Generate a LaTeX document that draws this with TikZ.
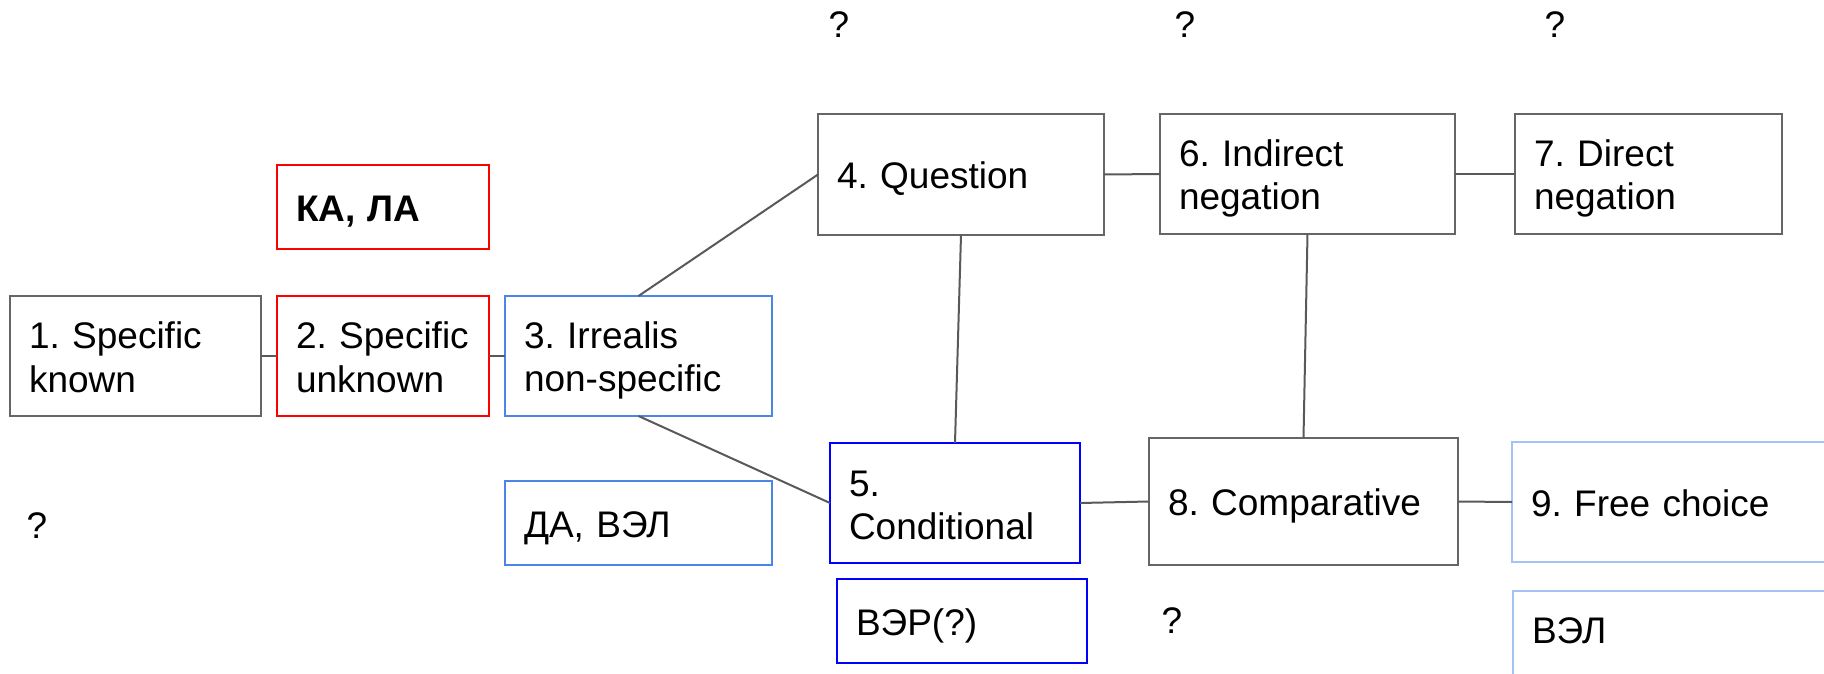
\documentclass[tikz,border=0pt]{standalone}
\usepackage{fontspec}
\setmainfont{Liberation Sans}
\definecolor{bordergray}{HTML}{666666}
\definecolor{linegray}{HTML}{595959}
\definecolor{redb}{HTML}{FF0000}
\definecolor{blueA}{HTML}{4A86E8}
\definecolor{blueB}{HTML}{0000FF}
\definecolor{blueC}{HTML}{A4C2F4}
\newcommand{\mystrut}{\rule[-7pt]{0pt}{43pt}}
\newcommand{\lowstrut}{\rule[-12.5pt]{0pt}{43pt}}
\newcommand{\boxfont}{\fontsize{37}{43}\selectfont\frenchspacing}
\hyphenpenalty=10000
\exhyphenpenalty=10000
\begin{document}
\begin{tikzpicture}[x=1pt,y=-1pt,
  box/.style={draw=#1, line width=2pt, rectangle, anchor=north west, outer sep=0pt,
    inner xsep=19pt, inner ysep=0pt, align=left, font=\boxfont},
  link/.style={draw=linegray, line width=2pt},
  qm/.style={anchor=base, inner sep=0pt, font=\boxfont}]
\useasboundingbox (0,0) rectangle (1824,674);
\clip (0,0) rectangle (1824,674);

\node[box=bordergray, minimum width=251pt, minimum height=120pt, text width=213pt] (n1) at (10,296) {\mystrut 1. Specific\\\mystrut known};
\node[box=redb, minimum width=212pt, minimum height=120pt, text width=174pt] (n2) at (277,296) {\mystrut 2. Specific\\\mystrut unknown};
\node[box=redb, minimum width=212pt, minimum height=84pt, text width=174pt] (nka) at (277,165) {\mystrut\bfseries КА, ЛА};
\node[box=blueA, minimum width=267pt, minimum height=120pt, text width=229pt] (n3) at (505,296) {\mystrut 3. Irrealis\\\mystrut non-specific};
\node[box=blueA, minimum width=267pt, minimum height=84pt, text width=229pt] (nda) at (505,481) {\mystrut ДА, ВЭЛ};
\node[box=bordergray, minimum width=286pt, minimum height=121pt, text width=248pt] (n4) at (818,114) {\mystrut 4. Question};
\node[box=blueB, minimum width=250pt, minimum height=120pt, text width=212pt] (n5) at (830,443) {\mystrut 5.\\\mystrut Conditional};
\node[box=blueB, minimum width=250pt, minimum height=84pt, text width=212pt] (nver) at (837,579) {\mystrut ВЭР(?)};
\node[box=bordergray, minimum width=295pt, minimum height=120pt, text width=257pt] (n6) at (1160,114) {\mystrut 6. Indirect\\\mystrut negation};
\node[box=bordergray, minimum width=267pt, minimum height=120pt, text width=229pt] (n7) at (1515,114) {\mystrut 7. Direct\\\mystrut negation};
\node[box=bordergray, minimum width=309pt, minimum height=127pt, text width=271pt] (n8) at (1149,438) {\mystrut 8. Comparative};
\node[box=blueC, minimum width=400pt, minimum height=120pt, text width=362pt] (n9) at (1512,442) {\mystrut 9. Free choice};
\node[box=blueC, minimum width=400pt, minimum height=86pt, text width=362pt] (nvel) at (1513,591) {\lowstrut ВЭЛ};

\node[qm] (q1) at (839,38) {?};
\node[qm] (q2) at (1185,38) {?};
\node[qm] (q3) at (1555,38) {?};
\node[qm] (q4) at (37,538) {?};
\node[qm] (q5) at (1172,633) {?};

\draw[link] (n1.east) -- (n2.west);
\draw[link] (n2.east) -- (n3.west);
\draw[link] (n3.north) -- (n4.west);
\draw[link] (n3.south) -- (n5.west);
\draw[link] (n4.south) -- (n5.north);
\draw[link] (n4.east) -- (n6.west);
\draw[link] (n6.east) -- (n7.west);
\draw[link] (n6.south) -- (n8.north);
\draw[link] (n5.east) -- (n8.west);
\draw[link] (n8.east) -- (n9.west);
\end{tikzpicture}
\end{document}
